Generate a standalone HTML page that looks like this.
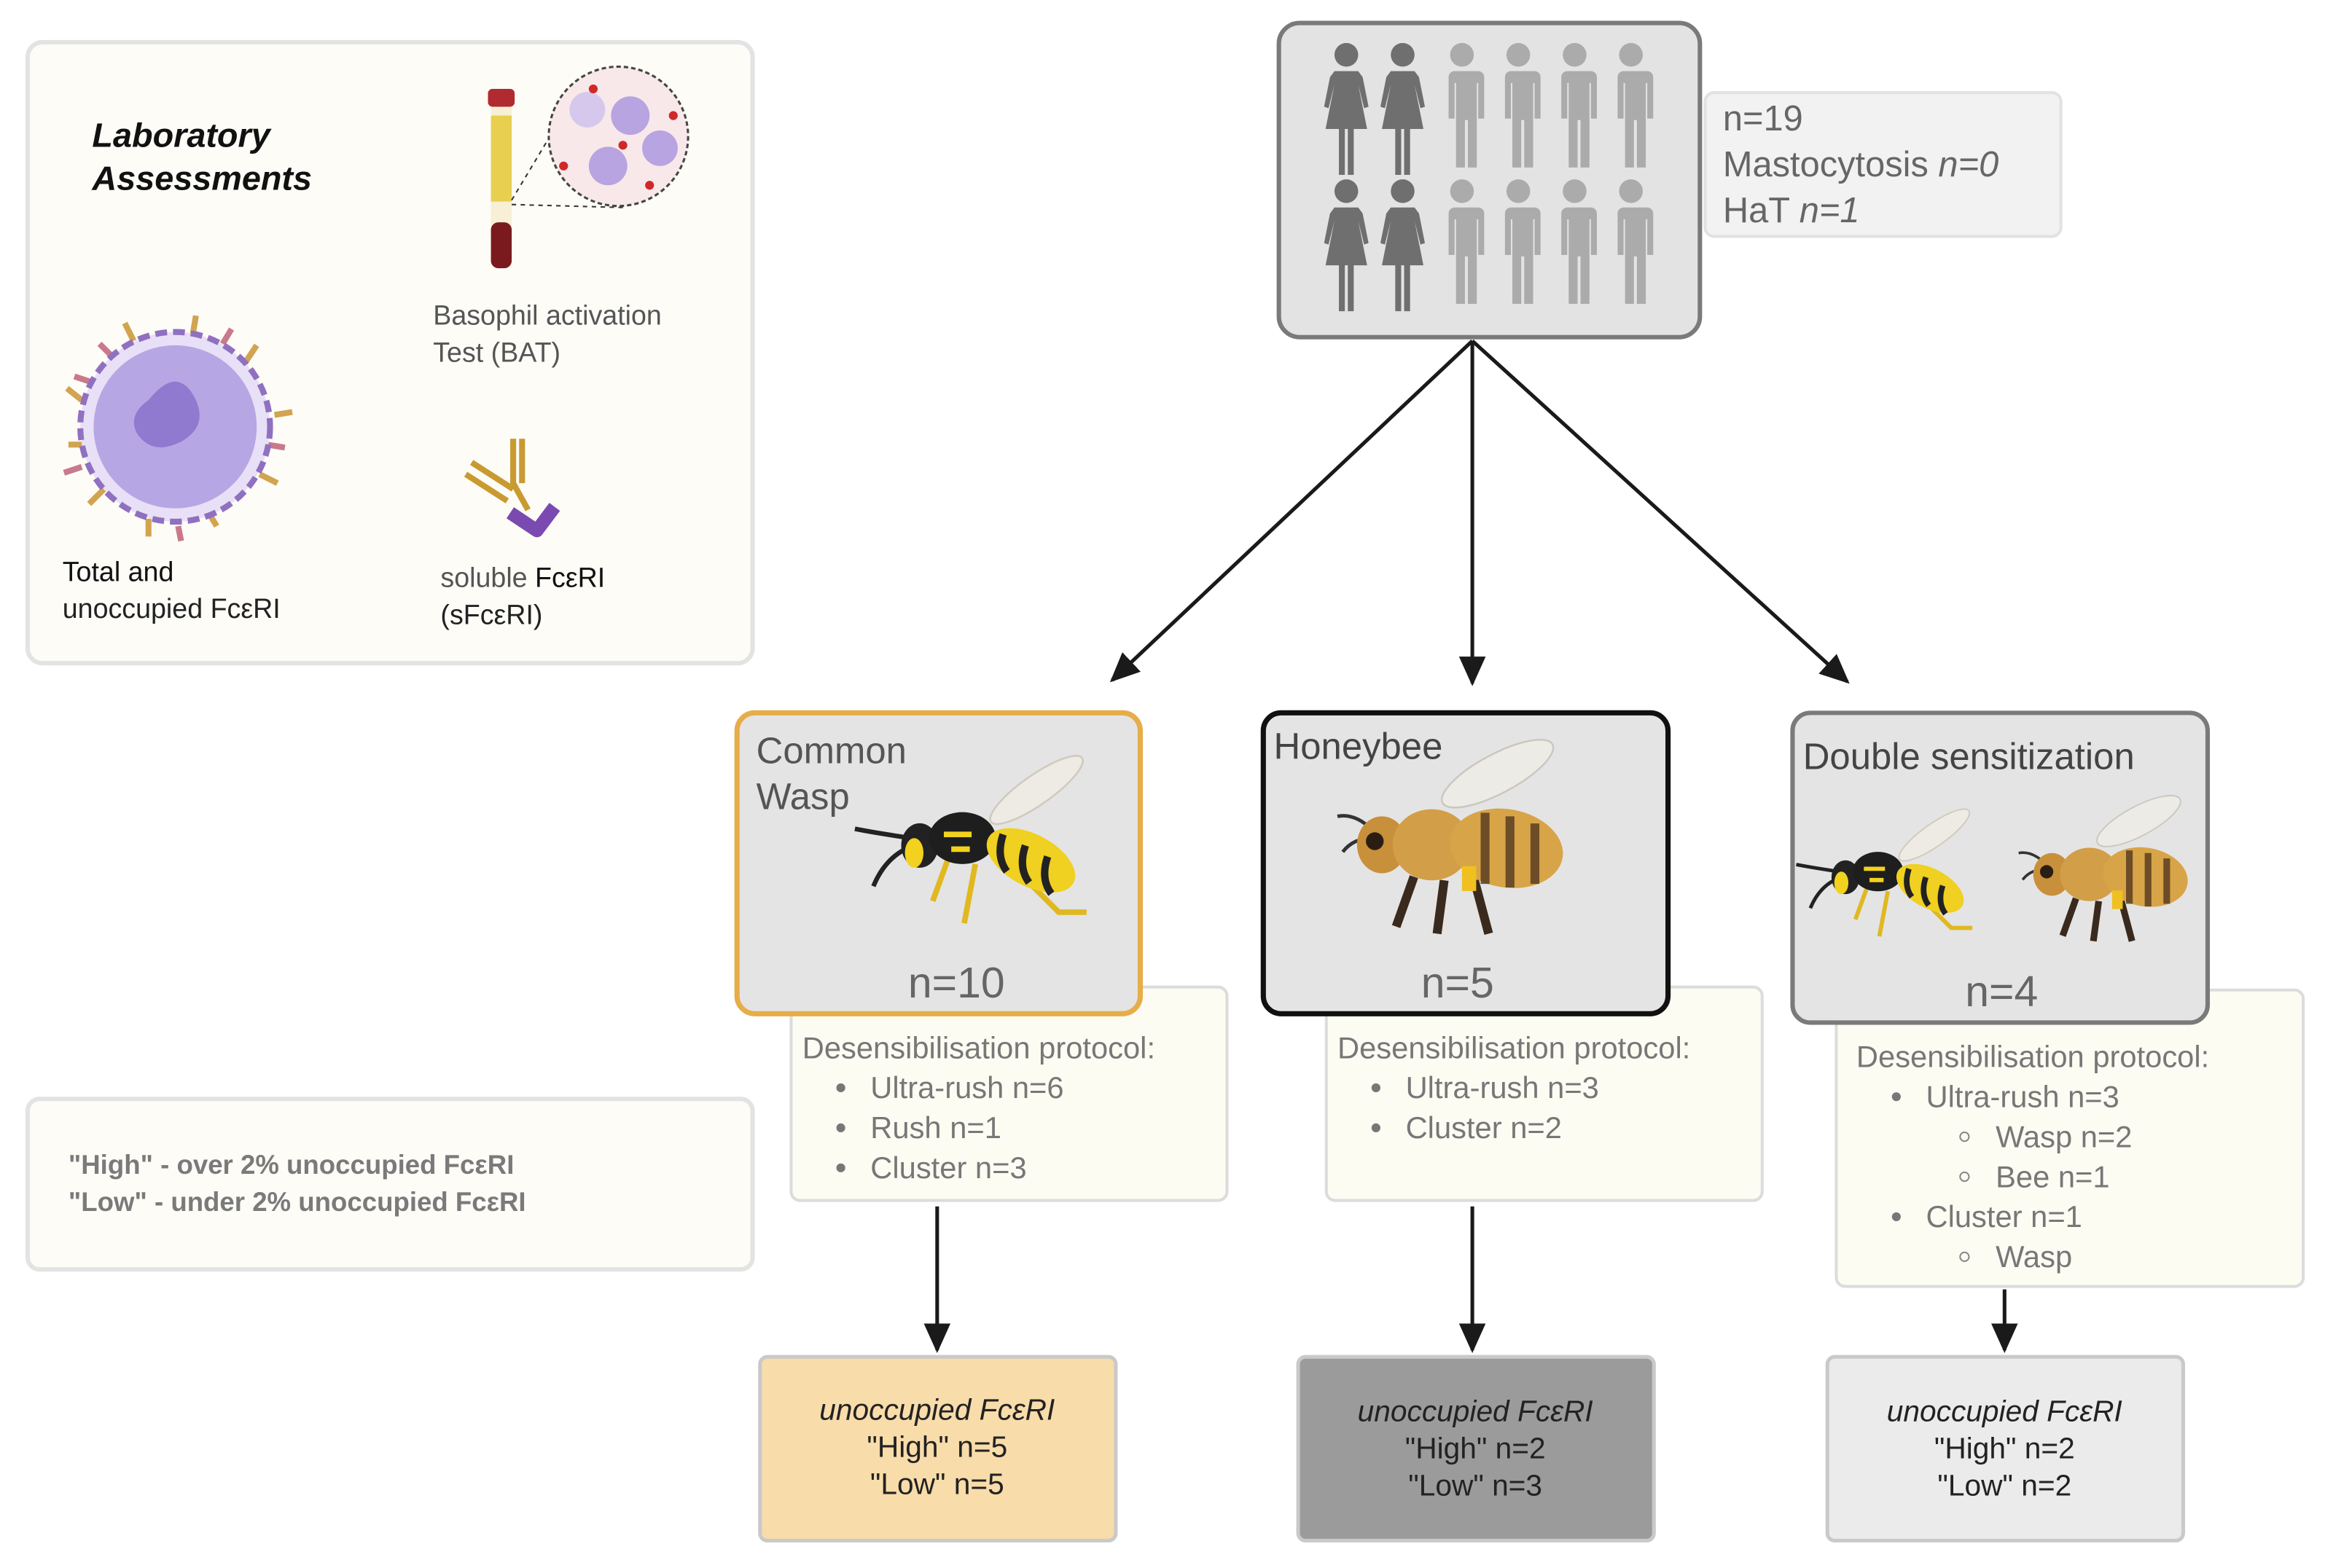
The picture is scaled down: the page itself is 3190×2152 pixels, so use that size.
<!DOCTYPE html>
<html><head><meta charset="utf-8"><style>
html,body{margin:0;padding:0;background:#fff;width:3190px;height:2152px;overflow:hidden}
svg{display:block}
text{font-family:"Liberation Sans",sans-serif}
</style></head><body>
<svg width="3190" height="2152" viewBox="0 0 1568 1058" xmlns="http://www.w3.org/2000/svg">
<defs>
<marker id="ah" markerWidth="20" markerHeight="18" refX="18" refY="9" orient="auto" markerUnits="userSpaceOnUse" viewBox="0 0 20 18">
<path d="M0,0 L20,9 L0,18 z" fill="#1a1a1a"/></marker>
<g id="fem"><circle cx="0" cy="9" r="8"/><path d="M-8,20 h16 l3,4 l4,20 l-3,1 l-4,-16 l6,30 h-9 v31 h-4 v-31 h-2 v31 h-4 v-31 h-9 l6,-30 l-4,16 l-3,-1 l4,-20 z"/></g>
<g id="mal"><circle cx="0" cy="9" r="8"/><path d="M-11,20 h22 a4,4 0 0 1 4,4 v28 h-4 v-24 h-1 v57 h-6 v-32 h-2 v32 h-6 v-57 h-1 v24 h-4 v-28 a4,4 0 0 1 4,-4 z"/></g>
<g id="wasp">
<ellipse cx="28" cy="-28" rx="30" ry="8" transform="rotate(-35 28 -28)" fill="#efece4" stroke="#cfc8b8" stroke-width="1" opacity="0.9"/>
<path d="M-40,-2 q-20,-3 -30,-5 M-38,2 q-15,5 -22,22" stroke="#222" stroke-width="2.5" fill="none"/>
<path d="M-20,10 l-8,22 M-5,12 l-6,32 M10,8 l30,30 h15" stroke="#e0b820" stroke-width="3" fill="none"/>
<ellipse cx="-35" cy="2" rx="10" ry="12" fill="#222"/>
<ellipse cx="-38" cy="6" rx="5" ry="8" fill="#f2d21e"/>
<ellipse cx="-12" cy="-2" rx="18" ry="14" fill="#1e1e1e"/>
<path d="M-22,-4 h15 M-18,4 h10" stroke="#f2d21e" stroke-width="3"/>
<ellipse cx="25" cy="10" rx="26" ry="14" transform="rotate(28 25 10)" fill="#f0d020"/>
<path d="M10,-4 q-4,12 2,20 M22,2 q-4,12 2,20 M34,8 q-4,12 2,20" stroke="#222" stroke-width="4" fill="none"/>
</g>
<g id="bee">
<ellipse cx="25" cy="-40" rx="35" ry="11" transform="rotate(-28 25 -40)" fill="#efece6" stroke="#c9c4bc" stroke-width="1" opacity="0.9"/>
<path d="M-45,-8 q-10,-10 -20,-8 M-44,-4 q-12,0 -18,8" stroke="#333" stroke-width="2" fill="none"/>
<path d="M-22,18 l-10,28 M-5,20 l-4,30 M12,20 l8,30" stroke="#3a2a1e" stroke-width="5" fill="none"/>
<ellipse cx="-40" cy="0" rx="14" ry="16" fill="#c8903a"/>
<circle cx="-44" cy="-2" r="5" fill="#2a1e14"/>
<ellipse cx="-12" cy="0" rx="22" ry="20" fill="#d39e48"/>
<ellipse cx="30" cy="2" rx="32" ry="22" transform="rotate(10 30 2)" fill="#d8a448"/>
<path d="M18,-18 v40 M32,-16 v40 M46,-12 v34" stroke="#5a3e22" stroke-width="5" opacity="0.85"/>
<rect x="5" y="12" width="8" height="14" fill="#f0c020"/>
</g>
</defs>

<!-- Left lab panel -->
<rect x="18.5" y="28.5" width="489" height="419" rx="10" fill="#fdfcf7" stroke="#e3e3e3" stroke-width="3"/>
<text x="62" y="99" font-size="23" font-weight="bold" font-style="italic" fill="#111">Laboratory</text>
<text x="62" y="128" font-size="23" font-weight="bold" font-style="italic" fill="#111">Assessments</text>
<rect x="331" y="63" width="14" height="118" rx="6" fill="#f7efd6"/>
<rect x="331" y="78" width="14" height="58" fill="#e8cf50"/>
<rect x="331" y="150" width="14" height="31" rx="5" fill="#7a1a1e"/>
<rect x="329" y="60" width="18" height="12" rx="3" fill="#b02a30"/>
<path d="M345,135 L378,80 M345,138 L420,140" stroke="#333" stroke-dasharray="3,3" fill="none"/>
<circle cx="417" cy="92" r="47" fill="#f8e8ea" stroke="#444" stroke-dasharray="3,2" stroke-width="1.5"/>
<circle cx="396" cy="74" r="12" fill="#d6c8ec"/>
<circle cx="425" cy="78" r="13" fill="#b8a4e0"/>
<circle cx="445" cy="100" r="12" fill="#b8a4e0"/>
<circle cx="410" cy="112" r="13" fill="#b8a4e0"/>
<g fill="#d02828"><circle cx="400" cy="60" r="3"/><circle cx="454" cy="78" r="3"/><circle cx="380" cy="112" r="3"/><circle cx="438" cy="125" r="3"/><circle cx="420" cy="98" r="3"/></g>
<text x="292" y="219" font-size="18.5" fill="#555">Basophil activation</text>
<text x="292" y="244" font-size="18.5" fill="#555">Test (BAT)</text>
<g stroke-width="4" fill="none">
<g stroke="#d2a450"><path d="M55,270 l-10,-8 M60,300 l-14,0 M70,330 l-10,10 M100,350 l0,12 M140,345 l6,10 M175,320 l12,6 M185,280 l12,-2 M165,245 l8,-12 M130,225 l2,-12 M90,230 l-6,-12"/></g>
<g stroke="#c97a8a"><path d="M62,258 l-12,-4 M55,315 l-12,4 M120,355 l2,10 M180,300 l12,2 M150,232 l6,-10 M75,240 l-8,-8"/></g>
</g>
<circle cx="118" cy="288" r="64" fill="#e8e0f6" stroke="#9070c0" stroke-width="4" stroke-dasharray="8,4"/>
<circle cx="118" cy="288" r="55" fill="#b7a6e4"/>
<path d="M100,270 q20,-25 32,0 q8,18 -10,28 q-20,10 -30,-6 q-6,-12 8,-22z" fill="#8f7ad0"/>
<text x="42" y="392" font-size="18.5" fill="#111">Total and</text>
<text x="42" y="417" font-size="18.5" fill="#222">unoccupied FcεRI</text>
<path d="M346,296 v30 l10,18 M352,296 v30 M318,312 l28,18 M314,320 l28,18" stroke="#c99a30" stroke-width="4" fill="none"/>
<path d="M344,346 l18,12 l12,-16" stroke="#7a4ab0" stroke-width="9" fill="none" stroke-linejoin="round"/>
<text x="297" y="396" font-size="18.5" fill="#555">soluble <tspan fill="#111">FcεRI</tspan></text>
<text x="297" y="421" font-size="18.5" fill="#222">(sFcεRI)</text>

<!-- Legend -->
<rect x="18.5" y="741.5" width="489" height="115" rx="8" fill="#fdfcf7" stroke="#e3e3e3" stroke-width="3"/>
<text x="46" y="792" font-size="18" font-weight="bold" fill="#7a7a7a">"High" - over 2% unoccupied FcεRI</text>
<text x="46" y="817" font-size="18" font-weight="bold" fill="#7a7a7a">"Low" - under 2% unoccupied FcεRI</text>

<!-- people box -->
<rect x="1150" y="62.5" width="240" height="97" rx="6" fill="#f2f2f2" stroke="#e2e2e2" stroke-width="2"/>
<text x="1162" y="88" font-size="24" fill="#666">n=19</text>
<text x="1162" y="119" font-size="24" fill="#666">Mastocytosis <tspan font-style="italic">n=0</tspan></text>
<text x="1162" y="150" font-size="24" fill="#666">HaT <tspan font-style="italic">n=1</tspan></text>
<rect x="862.5" y="15.5" width="284" height="212" rx="14" fill="#e3e3e3" stroke="#7a7a7a" stroke-width="3"/>
<g fill="#6f6f6f">
<use href="#fem" x="908" y="28"/><use href="#fem" x="946" y="28"/>
<use href="#fem" x="908" y="120"/><use href="#fem" x="946" y="120"/>
</g>
<g fill="#ababab">
<use href="#mal" x="986" y="28"/><use href="#mal" x="1024" y="28"/><use href="#mal" x="1062" y="28"/><use href="#mal" x="1100" y="28"/>
<use href="#mal" x="986" y="120"/><use href="#mal" x="1024" y="120"/><use href="#mal" x="1062" y="120"/><use href="#mal" x="1100" y="120"/>
</g>

<g stroke="#1a1a1a" stroke-width="2.5" fill="none" marker-end="url(#ah)">
<line x1="993" y1="230" x2="750" y2="459"/>
<line x1="993" y1="230" x2="993" y2="461"/>
<line x1="993" y1="230" x2="1246" y2="460"/>
<line x1="632" y1="814" x2="632" y2="911"/>
<line x1="993" y1="814" x2="993" y2="911"/>
<line x1="1352" y1="870" x2="1352" y2="911"/>
</g>

<rect x="533.5" y="666" width="294" height="144" rx="6" fill="#fdfcf3" stroke="#dcdcdc" stroke-width="2"/>
<rect x="894.5" y="666" width="294" height="144" rx="6" fill="#fdfcf3" stroke="#dcdcdc" stroke-width="2"/>
<rect x="1238.5" y="668" width="315" height="200" rx="6" fill="#fdfcf3" stroke="#dcdcdc" stroke-width="2"/>
<g font-size="20.5" fill="#777">
<text x="541" y="714">Desensibilisation protocol:</text>
<text x="587" y="741">Ultra-rush n=6</text><text x="587" y="768">Rush n=1</text><text x="587" y="795">Cluster n=3</text>
<circle cx="567" cy="734" r="3"/><circle cx="567" cy="761" r="3"/><circle cx="567" cy="788" r="3"/>
<text x="902" y="714">Desensibilisation protocol:</text>
<text x="948" y="741">Ultra-rush n=3</text><text x="948" y="768">Cluster n=2</text>
<circle cx="928" cy="734" r="3"/><circle cx="928" cy="761" r="3"/>
<text x="1252" y="720">Desensibilisation  protocol:</text>
<text x="1299" y="747">Ultra-rush n=3</text><text x="1346" y="774">Wasp n=2</text><text x="1346" y="801">Bee n=1</text>
<text x="1299" y="828">Cluster n=1</text><text x="1346" y="855">Wasp</text>
<circle cx="1279" cy="740" r="3"/><circle cx="1279" cy="821" r="3"/>
<circle cx="1325" cy="767" r="3" fill="none" stroke="#888" stroke-width="1"/><circle cx="1325" cy="794" r="3" fill="none" stroke="#888" stroke-width="1"/><circle cx="1325" cy="848" r="3" fill="none" stroke="#888" stroke-width="1"/>
</g>

<rect x="497" y="481" width="272" height="203" rx="12" fill="#e4e4e4" stroke="#e6ad48" stroke-width="3.5"/>
<text x="510" y="515" font-size="25" fill="#555">Common</text>
<text x="510" y="546" font-size="25" fill="#555">Wasp</text>
<g transform="translate(664,568) scale(1.25)"><use href="#wasp"/></g>
<text x="645" y="673" font-size="29" fill="#666" text-anchor="middle">n=10</text>

<rect x="852" y="481" width="273" height="203" rx="12" fill="#e4e4e4" stroke="#111" stroke-width="3.5"/>
<text x="859" y="512" font-size="25" fill="#444">Honeybee</text>
<g transform="translate(980,570) scale(1.2)"><use href="#bee"/></g>
<text x="983" y="673" font-size="29" fill="#666" text-anchor="middle">n=5</text>

<rect x="1209" y="481" width="280" height="209" rx="12" fill="#e4e4e4" stroke="#7a7a7a" stroke-width="3"/>
<text x="1216" y="519" font-size="25" fill="#444">Double sensitization</text>
<g transform="translate(1278,590) scale(0.95)"><use href="#wasp"/></g>
<g transform="translate(1420,590) scale(0.9)"><use href="#bee"/></g>
<text x="1350" y="679" font-size="29" fill="#666" text-anchor="middle">n=4</text>

<rect x="512.5" y="915.5" width="240" height="124" rx="5" fill="#f8dcaa" stroke="#c9c9c9" stroke-width="2.5"/>
<rect x="875.5" y="915.5" width="240" height="124" rx="5" fill="#9b9b9b" stroke="#c9c9c9" stroke-width="2.5"/>
<rect x="1232.5" y="915.5" width="240" height="124" rx="5" fill="#ebebeb" stroke="#c9c9c9" stroke-width="2.5"/>
<g font-size="20" fill="#222" text-anchor="middle">
<text x="632" y="958" font-style="italic">unoccupied FcεRI</text><text x="632" y="983">"High" n=5</text><text x="632" y="1008">"Low"  n=5</text>
<text x="995" y="959" font-style="italic">unoccupied FcεRI</text><text x="995" y="984">"High" n=2</text><text x="995" y="1009">"Low"  n=3</text>
<text x="1352" y="959" font-style="italic">unoccupied FcεRI</text><text x="1352" y="984">"High" n=2</text><text x="1352" y="1009">"Low"  n=2</text>
</g>
</svg>
</body></html>
